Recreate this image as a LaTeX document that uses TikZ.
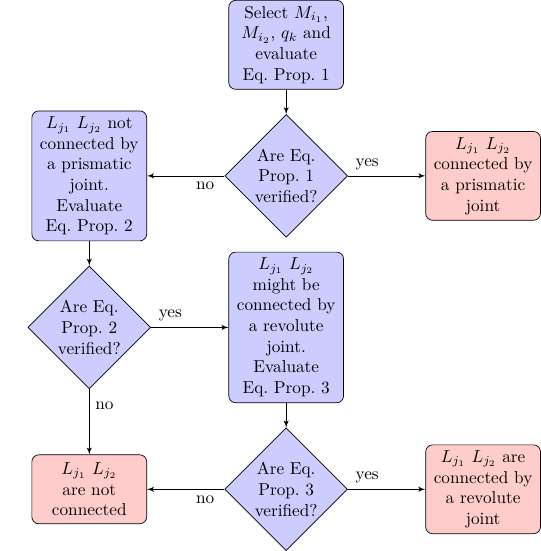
\documentclass[tikz,border=0pt]{standalone}
\usepackage{tikz}
\usetikzlibrary{calc, shapes.geometric, arrows, positioning, fit}

\tikzset{
    block/.style={rectangle, draw, fill=blue!20, text width=6em, align=center, rounded corners, minimum height=4em},
    result/.style={block, fill=red!20},
    decision/.style={diamond, draw, fill=blue!20, text width=4em, align=center, inner sep=0pt},
    line/.style={draw, -latex'}
}

\begin{document}
\begin{tikzpicture}[node distance=1.58cm]
        % nodes
        \node[block] (select) {Select $M_{i_1}$, $M_{i_2}$, $q_k$ and evaluate Eq.~Prop.~1};
        \node[decision, below=0.5cm of select] (test1) {Are Eq. Prop.~1 verified?};
        \node[block, left=of test1] (notpris) {$L_{j_1}$ $L_{j_2}$ not connected by a prismatic joint. Evaluate Eq.~Prop.~2};
        \node[result, right=of test1] (pris) {$L_{j_1}$ $L_{j_2}$ connected by a prismatic joint};
        \node[decision, below=0.5cm of notpris] (test2) {Are Eq. Prop.~2 verified?};
        \node[block, right=of test2] (mightrev) {$L_{j_1}$ $L_{j_2}$ might be connected by a revolute joint. Evaluate Eq.~Prop.~3};
        \node[decision, below=0.5cm of mightrev] (test3) {Are Eq. Prop.~3 verified?};
        \node[result, left=of test3] (notconn) {$L_{j_1}$ $L_{j_2}$ are not connected};
        \node[result, right=of test3] (rev) {$L_{j_1}$ $L_{j_2}$ are connected by a revolute joint};
        % edges
        \path[line] (select) -- (test1);
        \path[line] (test1) -- node[near start, below] {no} (notpris);
        \path[line] (test1) -- node[near start, above] {yes} (pris);
        \path[line] (notpris) -- (test2);
        \path[line] (test2) -- node[near start, above] {yes} (mightrev);
        \path[line] (test2) -- node[near start, right] {no} (notconn);
        \path[line] (mightrev) -- (test3);
        \path[line] (test3) -- node[near start, below] {no} (notconn);
        \path[line] (test3) -- node[near start, above] {yes} (rev);
        % margins
        \pgfresetboundingbox
        \useasboundingbox ($(test2.west |- select.north)+(-16pt,0)$) rectangle (rev.east |- test3.south);
    \end{tikzpicture}
\end{document}
